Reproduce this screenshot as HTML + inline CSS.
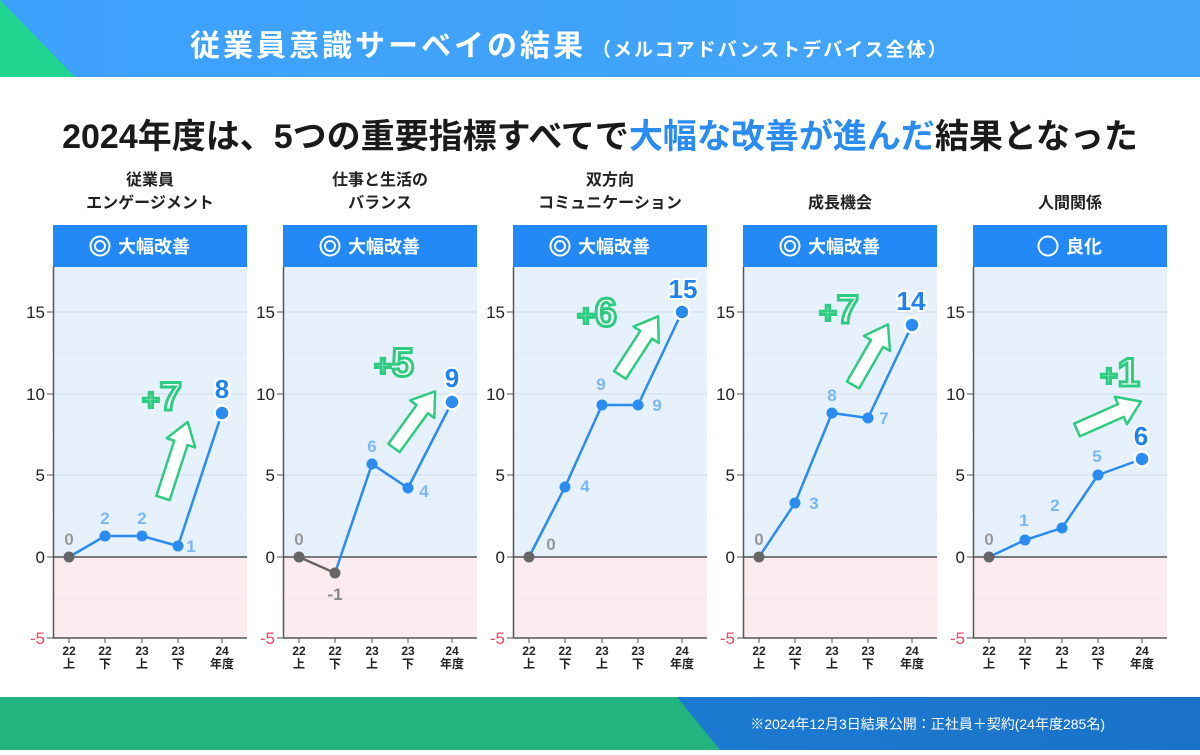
<!DOCTYPE html>
<html><head><meta charset="utf-8"><style>
body{margin:0;width:1200px;height:750px;overflow:hidden;background:#fff;font-family:"Liberation Sans","Noto Sans CJK JP",sans-serif;}
svg text{font-family:"Liberation Sans","Noto Sans CJK JP",sans-serif;}
</style></head><body>
<svg width="1200" height="750" viewBox="0 0 1200 750" xmlns="http://www.w3.org/2000/svg">
<defs>
<linearGradient id="hb" x1="0" x2="1"><stop offset="0" stop-color="#3da0fb"/><stop offset="1" stop-color="#44a6fb"/></linearGradient>
<linearGradient id="fb" x1="0" x2="1"><stop offset="0" stop-color="#1f86dc"/><stop offset="1" stop-color="#1a72c8"/></linearGradient>
<g id="frame">
<rect x="53" y="225" width="194" height="42" fill="#2389f6"/>
<rect x="53" y="267" width="194" height="290" fill="#e6f1fd"/>
<rect x="53" y="557" width="194" height="81" fill="#fcecef"/>
<g stroke="#cfdbe8" stroke-width="1"><line x1="53" x2="247" y1="312" y2="312"/><line x1="53" x2="247" y1="394" y2="394"/><line x1="53" x2="247" y1="475" y2="475"/></g>
<g stroke="#dde5ee" stroke-width="1" stroke-dasharray="2,2"><line x1="53" x2="247" y1="353" y2="353"/><line x1="53" x2="247" y1="435" y2="435"/><line x1="53" x2="247" y1="516" y2="516"/><line x1="53" x2="247" y1="598" y2="598"/></g>
<line x1="53" x2="247" y1="557" y2="557" stroke="#333" stroke-width="1.2"/>
<line x1="53.5" x2="53.5" y1="267" y2="638" stroke="#555" stroke-width="1.5"/>
<line x1="53" x2="247" y1="638" y2="638" stroke="#555" stroke-width="1.5"/>
<g stroke="#555"><line x1="47" x2="53" y1="312" y2="312"/><line x1="47" x2="53" y1="394" y2="394"/><line x1="47" x2="53" y1="475" y2="475"/><line x1="47" x2="53" y1="557" y2="557"/><line x1="47" x2="53" y1="638" y2="638"/>
<line x1="69" x2="69" y1="638" y2="643"/><line x1="105" x2="105" y1="638" y2="643"/><line x1="142" x2="142" y1="638" y2="643"/><line x1="178" x2="178" y1="638" y2="643"/><line x1="222" x2="222" y1="638" y2="643"/></g>
<g font-size="17" text-anchor="end" fill="#222"><text x="45" y="318">15</text><text x="45" y="400">10</text><text x="45" y="481">5</text><text x="45" y="563">0</text><text x="45" y="644" fill="#e84a5f">-5</text></g>
<g font-size="12" font-weight="bold" text-anchor="middle" fill="#222">
<text x="69" y="655">22</text><text x="69" y="668">上</text>
<text x="105" y="655">22</text><text x="105" y="668">下</text>
<text x="142" y="655">23</text><text x="142" y="668">上</text>
<text x="178" y="655">23</text><text x="178" y="668">下</text>
<text x="222" y="655">24</text><text x="222" y="668">年度</text></g>
</g>
<g id="big">
<circle cx="100" cy="246" r="9.5" fill="none" stroke="#fff" stroke-width="2"/><circle cx="100" cy="246" r="5" fill="none" stroke="#fff" stroke-width="2"/>
<text x="118" y="253" font-size="18" font-weight="bold" fill="#fff">大幅改善</text>
</g>
</defs>

<rect x="0" y="0" width="1200" height="77" fill="url(#hb)"/>
<polygon points="0,0 75,77 0,77" fill="#1fd590"/>
<text x="190" y="56" font-size="30" font-weight="bold" fill="#fff" letter-spacing="3">従業員意識サーベイの結果<tspan font-size="19" dx="6" letter-spacing="2">（メルコアドバンストデバイス全体）</tspan></text>

<text x="600" y="148" text-anchor="middle" font-size="34" font-weight="bold" fill="#1a1a1a">2024年度は、5つの重要指標すべてで<tspan fill="#2a8cf0">大幅な改善が進んだ</tspan>結果となった</text>

<g font-size="16" font-weight="bold" fill="#222" text-anchor="middle">
<text x="150" y="185">従業員</text><text x="150" y="208">エンゲージメント</text>
<text x="380" y="185">仕事と生活の</text><text x="380" y="208">バランス</text>
<text x="610" y="185">双方向</text><text x="610" y="208">コミュニケーション</text>
<text x="840" y="208">成長機会</text>
<text x="1070" y="208">人間関係</text>
</g>

<use href="#frame"/><use href="#frame" x="230"/><use href="#frame" x="460"/><use href="#frame" x="690"/><use href="#frame" x="920"/>
<use href="#big"/><use href="#big" x="230"/><use href="#big" x="460"/><use href="#big" x="690"/>
<circle cx="1048" cy="246" r="9.5" fill="none" stroke="#fff" stroke-width="2"/>
<text x="1066" y="253" font-size="18" font-weight="bold" fill="#fff">良化</text>

<g font-weight="bold" text-anchor="middle">
<polyline points="69,557 105,536 142,536 178,546 222,413" fill="none" stroke="#2a8cf0" stroke-width="2.5"/>
<circle cx="69" cy="557" r="5.5" fill="#666"/><circle cx="105" cy="536" r="5.5" fill="#2a8cf0"/><circle cx="142" cy="536" r="5.5" fill="#2a8cf0"/><circle cx="178" cy="546" r="5.5" fill="#2a8cf0"/>
<circle cx="222" cy="413" r="7.5" fill="#2a8cf0" stroke="#fff" stroke-width="2.5"/>
<g font-size="17" fill="#7ab8f5"><text x="69" y="545" fill="#999">0</text><text x="105" y="524">2</text><text x="142" y="524">2</text><text x="191" y="552">1</text></g>
<text x="222" y="398" font-size="26" fill="#1e82f0" stroke="#fff" stroke-width="4" paint-order="stroke">8</text>
<polyline points="299,557 335,573" fill="none" stroke="#666" stroke-width="2.5"/>
<polyline points="335,573 372,464 408,488 452,402" fill="none" stroke="#2a8cf0" stroke-width="2.5"/>
<circle cx="299" cy="557" r="5.5" fill="#666"/><circle cx="335" cy="573" r="5.5" fill="#666"/><circle cx="372" cy="464" r="5.5" fill="#2a8cf0"/><circle cx="408" cy="488" r="5.5" fill="#2a8cf0"/>
<circle cx="452" cy="402" r="7.5" fill="#2a8cf0" stroke="#fff" stroke-width="2.5"/>
<g font-size="17" fill="#7ab8f5"><text x="299" y="545" fill="#999">0</text><text x="335" y="600" fill="#888">-1</text><text x="372" y="452">6</text><text x="424" y="497">4</text></g>
<text x="452" y="387" font-size="26" fill="#1e82f0" stroke="#fff" stroke-width="4" paint-order="stroke">9</text>
<polyline points="529,557 565,487 602,405 638,405 682,312" fill="none" stroke="#2a8cf0" stroke-width="2.5"/>
<circle cx="529" cy="557" r="5.5" fill="#666"/><circle cx="565" cy="487" r="5.5" fill="#2a8cf0"/><circle cx="602" cy="405" r="5.5" fill="#2a8cf0"/><circle cx="638" cy="405" r="5.5" fill="#2a8cf0"/>
<circle cx="682" cy="312" r="7.5" fill="#2a8cf0" stroke="#fff" stroke-width="2.5"/>
<g font-size="17" fill="#7ab8f5"><text x="551" y="550" fill="#999">0</text><text x="585" y="492">4</text><text x="601" y="390">9</text><text x="657" y="411">9</text></g>
<text x="683" y="298" font-size="26" fill="#1e82f0" stroke="#fff" stroke-width="4" paint-order="stroke">15</text>
<polyline points="759,557 795,503 832,413 868,418 912,325" fill="none" stroke="#2a8cf0" stroke-width="2.5"/>
<circle cx="759" cy="557" r="5.5" fill="#666"/><circle cx="795" cy="503" r="5.5" fill="#2a8cf0"/><circle cx="832" cy="413" r="5.5" fill="#2a8cf0"/><circle cx="868" cy="418" r="5.5" fill="#2a8cf0"/>
<circle cx="912" cy="325" r="7.5" fill="#2a8cf0" stroke="#fff" stroke-width="2.5"/>
<g font-size="17" fill="#7ab8f5"><text x="759" y="545" fill="#999">0</text><text x="814" y="509">3</text><text x="832" y="401">8</text><text x="884" y="424">7</text></g>
<text x="911" y="310" font-size="26" fill="#1e82f0" stroke="#fff" stroke-width="4" paint-order="stroke">14</text>
<polyline points="989,557 1025,540 1062,528 1098,475 1142,459" fill="none" stroke="#2a8cf0" stroke-width="2.5"/>
<circle cx="989" cy="557" r="5.5" fill="#666"/><circle cx="1025" cy="540" r="5.5" fill="#2a8cf0"/><circle cx="1062" cy="528" r="5.5" fill="#2a8cf0"/><circle cx="1098" cy="475" r="5.5" fill="#2a8cf0"/>
<circle cx="1142" cy="459" r="7.5" fill="#2a8cf0" stroke="#fff" stroke-width="2.5"/>
<g font-size="17" fill="#7ab8f5"><text x="989" y="545" fill="#999">0</text><text x="1024" y="526">1</text><text x="1055" y="511">2</text><text x="1097" y="462">5</text></g>
<text x="1141" y="445" font-size="26" fill="#1e82f0" stroke="#fff" stroke-width="4" paint-order="stroke">6</text>
</g>

<g fill="#fff" stroke="#2ecc80" stroke-width="2.5" stroke-linejoin="round">
<polygon points="-7,0 7,0 7,-58 15,-58 0,-80 -15,-58 -7,-58" transform="translate(163,498) rotate(18)"/>
<polygon points="-7,0 7,0 7,-48 15,-48 0,-70 -15,-48 -7,-48" transform="translate(394,448) rotate(36)"/>
<polygon points="-7,0 7,0 7,-48 15,-48 0,-70 -15,-48 -7,-48" transform="translate(620,375) rotate(33)"/>
<polygon points="-7,0 7,0 7,-48 15,-48 0,-70 -15,-48 -7,-48" transform="translate(853,385) rotate(30)"/>
<polygon points="-7,0 7,0 7,-48 15,-48 0,-70 -15,-48 -7,-48" transform="translate(1077,430) rotate(66)"/>
</g>
<g font-size="40" font-weight="900" fill="#fff" stroke="#2ecc80" stroke-width="3" paint-order="fill" text-anchor="middle">
<text x="162" y="410"><tspan font-size="30">+</tspan>7</text>
<text x="394" y="376"><tspan font-size="30">+</tspan>5</text>
<text x="597" y="326"><tspan font-size="30">+</tspan>6</text>
<text x="839" y="323"><tspan font-size="30">+</tspan>7</text>
<text x="1120" y="386"><tspan font-size="30">+</tspan>1</text>
</g>

<rect x="0" y="697" width="1200" height="53" fill="url(#fb)"/>
<polygon points="0,697 677,697 720,750 0,750" fill="#22b37e"/>
<text x="1105" y="729" font-size="14" fill="#fff" text-anchor="end">※2024年12月3日結果公開：正社員＋契約(24年度285名)</text>
</svg>
</body></html>
